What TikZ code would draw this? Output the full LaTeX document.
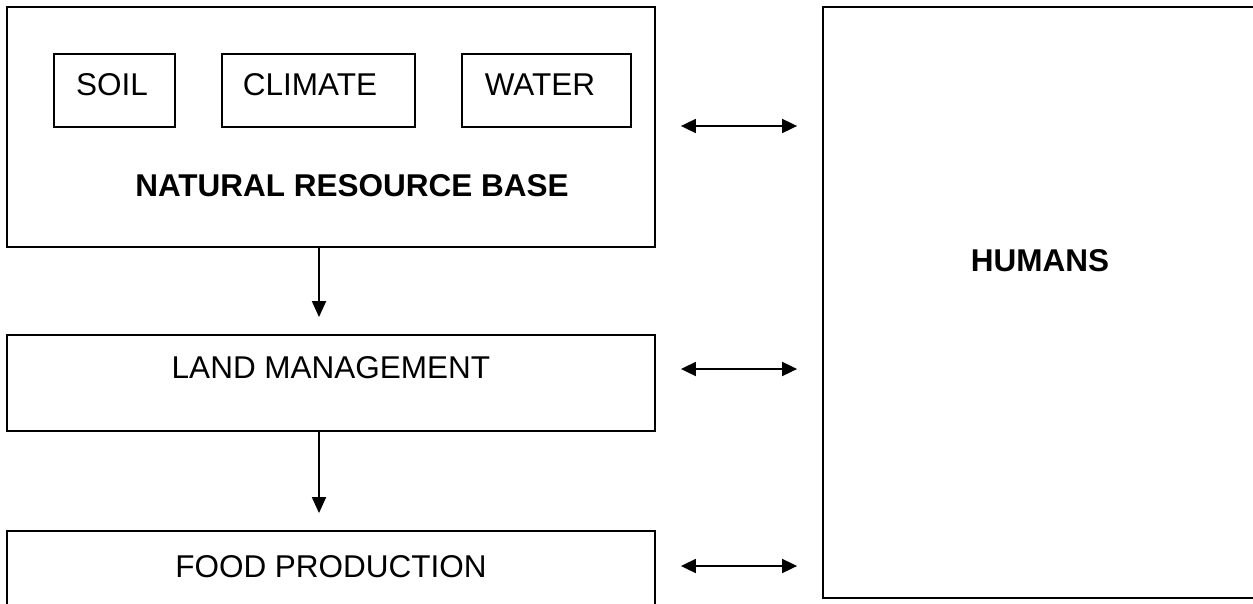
\documentclass[tikz,border=0pt]{standalone}
\usepackage{fontspec}
\setmainfont{Liberation Sans}
\usetikzlibrary{arrows.meta}
\begin{document}
\begin{tikzpicture}[x=1pt,y=-1pt,
  box/.style={draw,line width=1.8pt,inner sep=0pt},
  lbl/.style={font=\fontsize{31.5}{36}\selectfont,inner sep=0pt,anchor=base},
  blbl/.style={font=\fontsize{31.5}{36}\selectfont\bfseries,inner sep=0pt,anchor=base},
  conn/.style={line width=1.8pt,-{Triangle[length=16pt,width=14pt]}},
  dconn/.style={line width=1.8pt,{Triangle[length=15pt,width=14pt]}-{Triangle[length=15pt,width=14pt]}}]
\useasboundingbox (0,0) rectangle (1253,603);
% boxes
\node[box,minimum width=648pt,minimum height=240pt] (nrb) at (331,127) {};
\node[box,minimum width=121pt,minimum height=73pt] (soil) at (114.5,90.5) {};
\node[box,minimum width=193pt,minimum height=73pt] (climate) at (318.5,90.5) {};
\node[box,minimum width=169pt,minimum height=73pt] (water) at (546.5,90.5) {};
\node[box,minimum width=648pt,minimum height=96pt] (land) at (331,383) {};
\node[box,minimum width=648pt,minimum height=120pt] (food) at (331,591) {};
\node[box,minimum width=460pt,minimum height=591pt] (hum) at (1053,302.5) {};
% texts
\node[lbl] (tsoil) at (112,95) {SOIL};
\node[lbl] (tclim) at (310,95) {CLIMATE};
\node[lbl] (twater) at (540,95) {WATER};
\node[blbl] (tnrb) at (352,196) {NATURAL RESOURCE BASE};
\node[lbl] (tland) at (331,378) {LAND MANAGEMENT};
\node[lbl] (tfood) at (331,577) {FOOD PRODUCTION};
\node[blbl] (thum) at (1040,271) {HUMANS};
% connectors
\coordinate (ax) at (319,0);
\draw[conn,shorten >=17pt] (nrb.south -| ax) -- (land.north -| ax);
\draw[conn,shorten >=17pt] (land.south -| ax) -- (food.north -| ax);
\coordinate (r1) at (0,126);
\coordinate (r2) at (0,369);
\coordinate (r3) at (0,566);
\draw[dconn,shorten <=25pt,shorten >=25pt] (nrb.east |- r1) -- (hum.west |- r1);
\draw[dconn,shorten <=25pt,shorten >=25pt] (land.east |- r2) -- (hum.west |- r2);
\draw[dconn,shorten <=25pt,shorten >=25pt] (food.east |- r3) -- (hum.west |- r3);
\end{tikzpicture}
\end{document}
